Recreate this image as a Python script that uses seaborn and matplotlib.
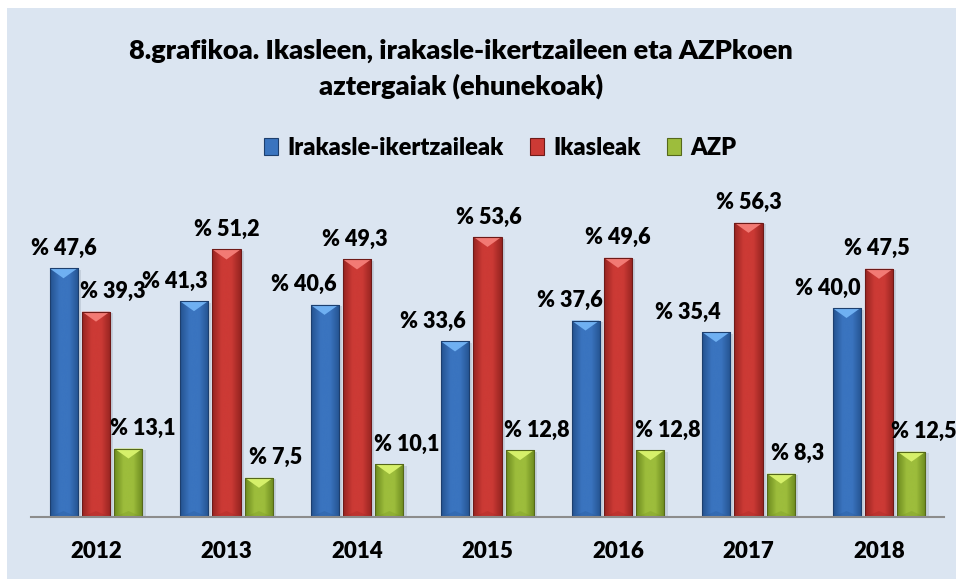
import numpy as np
import pandas as pd
import matplotlib
matplotlib.use("Agg")
import matplotlib.pyplot as plt
import seaborn as sns
from matplotlib.patches import Rectangle, Polygon, Patch
from matplotlib.colors import LinearSegmentedColormap

# ---- data ----
years = ["2012", "2013", "2014", "2015", "2016", "2017", "2018"]
series = ["Irakasle-ikertzaileak", "Ikasleak", "AZP"]
irakasle = [47.6, 41.3, 40.6, 33.6, 37.6, 35.4, 40.0]
ikasleak = [39.3, 51.2, 49.3, 53.6, 49.6, 56.3, 47.5]
azp = [13.1, 7.5, 10.1, 12.8, 12.8, 8.3, 12.5]
title_lines = ["8.grafikoa. Ikasleen, irakasle-ikertzaileen eta AZPkoen",
               "aztergaiak (ehunekoak)"]

# ---- styles ----
base_col = {"Irakasle-ikertzaileak": "#3a74bf", "Ikasleak": "#cc3a35", "AZP": "#9dbd3c"}
dark_col = {"Irakasle-ikertzaileak": "#24528f", "Ikasleak": "#962421", "AZP": "#6c8a1e"}
light_col = {"Irakasle-ikertzaileak": "#6fb0f2", "Ikasleak": "#f27a74", "AZP": "#d6f06a"}
edge_col = {"Irakasle-ikertzaileak": "#1d3f6e", "Ikasleak": "#6e1a18", "AZP": "#55681a"}
# label x-offsets in pixels (manual placement as in the original)
label_dx = {
    "Irakasle-ikertzaileak": [0, -19, -21, -22, -16, -28, -19],
    "Ikasleak": [17, 0, -2, 1, 0, 0, -2],
    "AZP": [14, 17, 17, 17, 17, 17, 12],
}
BG = "#dbe5f1"
FONT = "Lato"
WEIGHT = "heavy"

df = pd.DataFrame({
    "year": years * 3,
    "series": [s for s in series for _ in years],
    "value": irakasle + ikasleak + azp,
})

W, H = 956, 579
fig = plt.figure(figsize=(W / 100, H / 100), dpi=100)
fig.patch.set_facecolor("white")
fig.add_artist(Rectangle((7 / W, 0), 1 - 7 / W, 1 - 8 / H, transform=fig.transFigure,
                         facecolor=BG, edgecolor="none", zorder=-10))

ax_left, ax_right = 30.75, 944.25
ax_bottom_px, ax_top_px = 517, 203.5
ax = fig.add_axes([ax_left / W, (H - ax_bottom_px) / H, (ax_right - ax_left) / W,
                   (ax_bottom_px - ax_top_px) / H])
ax.set_facecolor("none")

sns.barplot(data=df, x="year", y="value", hue="series", order=years, hue_order=series,
            palette=base_col, width=0.747, gap=0.138, ax=ax, legend=False,
            edgecolor="none", linewidth=0, errorbar=None)
ax.set_xlim(-0.5, 6.5)
ax.set_ylim(0, 60)

px_per_y = (ax_bottom_px - ax_top_px) / 60.0

# decorate bars with bevel look
values = {"Irakasle-ikertzaileak": irakasle, "Ikasleak": ikasleak, "AZP": azp}
patches = [p for p in ax.patches if p.get_width() > 0]
k = 0
for s in series:
    cmap = LinearSegmentedColormap.from_list(
        s, [dark_col[s], base_col[s], base_col[s], dark_col[s]])
    for i, y in enumerate(values[s]):
        p = patches[k]
        k += 1
        x0 = p.get_x()
        w = p.get_width()
        h = p.get_height()
        p.set_facecolor("none")
        sh = Rectangle((x0 + w * 0.12, 0), w, h - 0.3, facecolor="#9aa6b5", alpha=0.35,
                       edgecolor="none", zorder=1)
        ax.add_patch(sh)
        grad = np.linspace(0, 1, 64).reshape(1, -1)
        body = Rectangle((x0, 0), w, h, facecolor="none", edgecolor="none", zorder=2)
        ax.add_patch(body)
        im = ax.imshow(grad, extent=[x0, x0 + w, 0, h], aspect="auto", cmap=cmap,
                       origin="lower", zorder=2, interpolation="bicubic")
        im.set_clip_path(body)
        d = 10 / px_per_y
        tri = Polygon([[x0, h], [x0 + w, h], [x0 + w / 2, h - d]], closed=True,
                      facecolor=light_col[s], edgecolor="none", zorder=3)
        ax.add_patch(tri)
        bot = Polygon([[x0, 0], [x0 + w, 0], [x0 + w / 2, 6 / px_per_y]], closed=True,
                      facecolor=dark_col[s], edgecolor="none", alpha=0.25, zorder=3)
        ax.add_patch(bot)
        ax.add_patch(Rectangle((x0, 0), w, h, facecolor="none", edgecolor=edge_col[s],
                               linewidth=0.8, zorder=4))
        ax.annotate(f"% {y:.1f}".replace(".", ","), (x0 + w / 2, h),
                    xytext=(label_dx[s][i] * 0.72, 20 * 0.72), textcoords="offset points",
                    ha="center", va="center", fontsize=15.5, fontweight=WEIGHT,
                    family=FONT, color="black", zorder=5, annotation_clip=False)

for side in ["left", "right", "top"]:
    ax.spines[side].set_visible(False)
ax.spines["bottom"].set_color("#8c8c8c")
ax.spines["bottom"].set_linewidth(1.5)
ax.spines["bottom"].set_zorder(6)
ax.set_yticks([])
ax.set_xlabel("")
ax.set_ylabel("")
ax.tick_params(axis="x", length=0, pad=17)
for t in ax.get_xticklabels():
    t.set_fontsize(16)
    t.set_fontweight(WEIGHT)
    t.set_family(FONT)

# two-line title, baselines at y=59 and y=95 px
fig.text(461 / W, 1 - 59 / H, title_lines[0], ha="center", va="baseline", fontsize=19.5,
         fontweight=WEIGHT, family=FONT)
fig.text(461 / W, 1 - 95 / H, title_lines[1], ha="center", va="baseline", fontsize=19.5,
         fontweight=WEIGHT, family=FONT)

handles = [Patch(facecolor=base_col[s], edgecolor=edge_col[s], linewidth=0.8, label=s)
           for s in series]
leg = fig.legend(handles=handles, loc="center", bbox_to_anchor=(500 / W, 1 - 148 / H),
                 ncol=3, frameon=False, handlelength=0.6, handleheight=0.75,
                 handletextpad=0.4, columnspacing=1.1,
                 prop={"family": FONT, "weight": WEIGHT, "size": 17})

fig.savefig("out.png", dpi=100, facecolor=fig.get_facecolor())
